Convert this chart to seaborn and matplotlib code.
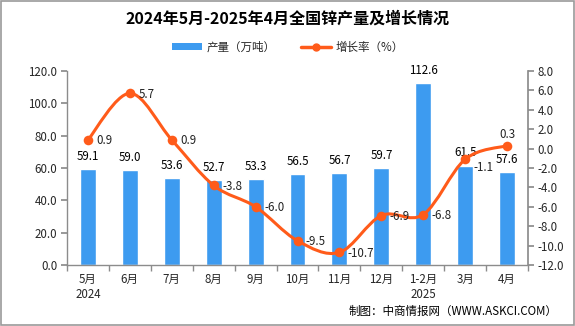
import numpy as np
import pandas as pd
import matplotlib
matplotlib.use('Agg')
import matplotlib.pyplot as plt
import seaborn as sns
from matplotlib.path import Path
from matplotlib.patches import PathPatch, Patch, Rectangle
from matplotlib.lines import Line2D

months = ['5月\n2024', '6月', '7月', '8月', '9月', '10月', '11月', '12月', '1-2月\n2025', '3月', '4月']
output = [59.1, 59.0, 53.6, 52.7, 53.3, 56.5, 56.7, 59.7, 112.6, 61.5, 57.6]
growth = [0.9, 5.7, 0.9, -3.8, -6.0, -9.5, -10.7, -6.9, -6.8, -1.1, 0.3]
left_ticks = [0, 20, 40, 60, 80, 100, 120]
right_ticks = [-12, -10, -8, -6, -4, -2, 0, 2, 4, 6, 8]

title = '2024年5月-2025年4月全国锌产量及增长情况'
bar_name = '产量（万吨）'
line_name = '增长率（%）'
footer = '制图：中商情报网（WWW.ASKCI.COM）'

BAR = '#3D9BF0'
LINE = '#FF5B1A'
AXC = '#8C8C8C'
FS = 8.3

sns.set_theme(style='white')
plt.rcParams['font.family'] = ['Noto Sans CJK SC', 'DejaVu Sans']

fig = plt.figure(figsize=(5.75, 3.26), dpi=100)
fig.patch.set_facecolor('white')
fig.add_artist(Rectangle((0.002, 0.003), 0.996, 0.994, transform=fig.transFigure,
                         fill=False, edgecolor='#9A9A9A', lw=1.2))

ax = fig.add_axes([67 / 575, 1 - 265 / 326, (528 - 67) / 575, (265 - 71) / 326])
df = pd.DataFrame({'month': months, 'output': output, 'growth': growth})
sns.barplot(data=df, x='month', y='output', color=BAR, saturation=1, width=0.38, ax=ax, zorder=2)
ax.set_xlim(-0.5, len(months) - 0.5)
ax.set_ylim(0, 120)
ax.set_yticks(left_ticks)
ax.set_yticklabels([f'{v:.1f}' for v in left_ticks], fontsize=FS)
ax.set_xlabel('')
ax.set_ylabel('')
ax.set_xticks(range(len(months)))
ax.set_xticklabels(months, fontsize=FS, linespacing=1.2)
ax.set_xticks(np.arange(-0.5, len(months), 1), minor=True)
ax.tick_params(axis='x', which='major', length=0, pad=6)
ax.tick_params(axis='x', which='minor', length=4, color=AXC, direction='out', bottom=True)
ax.tick_params(axis='y', length=4, color=AXC, direction='out', left=True, pad=3)
for s in ['top', 'right']:
    ax.spines[s].set_visible(False)
for s in ['left', 'bottom']:
    ax.spines[s].set_color(AXC)
    ax.spines[s].set_linewidth(1)

for i, v in enumerate(output):
    ax.text(i, v + 7.8, f'{v:.1f}', ha='center', va='center', fontsize=FS, color='black', zorder=5)

ax2 = ax.twinx()
ax2.set_ylim(-12, 8)
ax2.set_yticks(right_ticks)
ax2.set_yticklabels([f'{v:.1f}' for v in right_ticks], fontsize=FS)
ax2.tick_params(axis='y', length=4, color=AXC, direction='out', right=True, pad=3)
for s in ['top', 'left', 'bottom']:
    ax2.spines[s].set_visible(False)
ax2.spines['right'].set_color(AXC)
ax2.grid(False)
ax.grid(False)

# smooth curve (Catmull-Rom -> cubic Bezier) through the data points
xs = np.arange(len(growth), dtype=float)
ys = np.array(growth, dtype=float)
P = np.column_stack([xs, ys])
verts = [P[0]]
codes = [Path.MOVETO]
n = len(P)
for i in range(n - 1):
    p0 = P[i - 1] if i > 0 else P[i]
    p1 = P[i]
    p2 = P[i + 1]
    p3 = P[i + 2] if i + 2 < n else P[i + 1]
    c1 = p1 + (p2 - p0) / 6.0
    c2 = p2 - (p3 - p1) / 6.0
    verts += [c1, c2, p2]
    codes += [Path.CURVE4] * 3
ax2.add_patch(PathPatch(Path(verts, codes), facecolor='none', edgecolor=LINE, lw=2.2, zorder=3))
sns.scatterplot(x=xs, y=ys, color=LINE, s=48, edgecolor=LINE, linewidth=0, ax=ax2, zorder=4, legend=False)

for i, v in enumerate(growth):
    if i == len(growth) - 1:
        ax2.text(i, v + 1.2, f'{v:.1f}', ha='center', va='center', fontsize=FS, color='#222222', zorder=5)
    elif i == len(growth) - 2:
        ax2.text(i + 0.2, v - 0.9, f'{v:.1f}', ha='left', va='center', fontsize=FS, color='#222222', zorder=5)
    else:
        ax2.text(i + 0.2, v - 0.1, f'{v:.1f}', ha='left', va='center', fontsize=FS, color='#222222', zorder=5)

fig.text(0.5, 1 - 19 / 326, title, ha='center', va='center', fontsize=11.5, fontweight='bold', color='black')

handles = [Patch(facecolor=BAR, edgecolor='none'),
           Line2D([0], [0], color=LINE, lw=2.5, marker='o', markersize=5)]
fig.legend(handles, [bar_name, line_name], loc='center', bbox_to_anchor=(0.5, 1 - 47 / 326),
           ncol=2, frameon=False, fontsize=FS, handlelength=2.6, handleheight=0.6,
           columnspacing=2.2, handletextpad=0.4)

fig.text(1 - 18 / 575, 1 - 311 / 326, footer, ha='right', va='center', fontsize=FS, color='black')

fig.savefig('out.png', dpi=100)
